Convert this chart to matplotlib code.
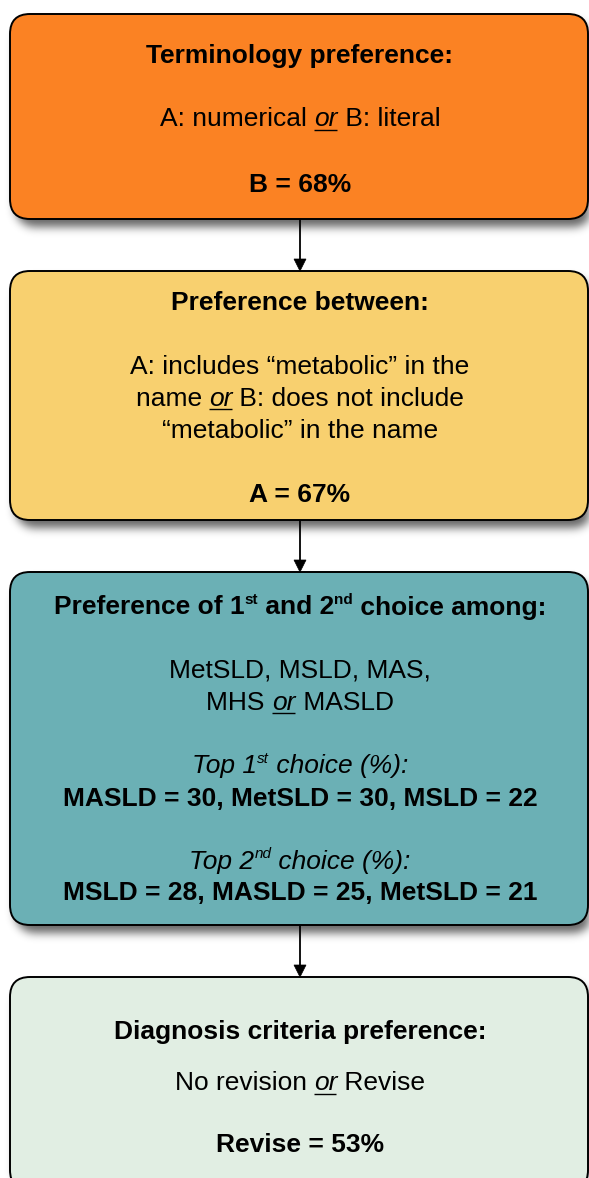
import numpy as np
import matplotlib
matplotlib.use('Agg')
import matplotlib.pyplot as plt
from matplotlib.patches import FancyBboxPatch, Polygon
from matplotlib.font_manager import FontProperties

# ---------------- data ----------------
terminology_options = ["numerical", "literal"]
terminology_winner = "B"
terminology_pct = 68

metabolic_winner = "A"
metabolic_pct = 67

candidate_names = ["MetSLD", "MSLD", "MAS", "MHS", "MASLD"]
top1_names = ["MASLD", "MetSLD", "MSLD"]
top1_values = [30, 30, 22]
top2_names = ["MSLD", "MASLD", "MetSLD"]
top2_values = [28, 25, 21]

diagnosis_options = ["No revision", "Revise"]
diagnosis_winner = "Revise"
diagnosis_pct = 53

box_colors = ["#FB8223", "#F8D06F", "#6BB0B5", "#E1EEE3"]

# ---------------- layout ----------------
W, H = 589, 1178
DPI = 100
FAMILY = "Liberation Sans"
FS = 19.0
PX = DPI / 72.0

BOX_X0, BOX_X1 = 10, 588
RADIUS = 20
boxes_y = [(14, 219), (271, 520), (572, 925), (977, 1190)]
CX = 300

fig = plt.figure(figsize=(W / DPI, H / DPI), dpi=DPI)
fig.patch.set_facecolor("white")
ax = fig.add_axes([0, 0, 1, 1])
ax.set_xlim(0, W)
ax.set_ylim(H, 0)
ax.axis("off")
renderer = fig.canvas.get_renderer()

# ---------------- shadows ----------------
yy, xx = np.mgrid[0:H, 0:W] + 0.5


def rrect_mask(x0, y0, x1, y1, r):
    dx = np.maximum(np.maximum(x0 + r - xx, 0), xx - (x1 - r))
    dy = np.maximum(np.maximum(y0 + r - yy, 0), yy - (y1 - r))
    dx = np.maximum(dx, 0)
    dy = np.maximum(dy, 0)
    return ((dx ** 2 + dy ** 2) <= r ** 2).astype(float)


def blur(img, sigma):
    rad = int(3 * sigma)
    t = np.arange(-rad, rad + 1)
    k = np.exp(-t ** 2 / (2 * sigma ** 2))
    k /= k.sum()
    out = np.apply_along_axis(lambda m: np.convolve(m, k, mode="same"), 1, img)
    out = np.apply_along_axis(lambda m: np.convolve(m, k, mode="same"), 0, out)
    return out


mask = np.zeros((H, W))
for (y0, y1) in boxes_y:
    mask = np.maximum(mask, rrect_mask(BOX_X0 + 5, y0 + 8, BOX_X1 + 5, y1 + 8, RADIUS))
shadow = blur(mask, 4.5)
rgba = np.zeros((H, W, 4))
rgba[..., 3] = shadow * 0.6
ax.imshow(rgba, extent=(0, W, H, 0), origin="upper", zorder=0.5,
          interpolation="bilinear", aspect="auto")
ax.set_xlim(0, W)
ax.set_ylim(H, 0)

# ---------------- boxes and arrows ----------------
for (y0, y1), col in zip(boxes_y, box_colors):
    ax.add_patch(FancyBboxPatch((BOX_X0, y0), BOX_X1 - BOX_X0, y1 - y0,
                                boxstyle=f"round,pad=0,rounding_size={RADIUS}",
                                facecolor=col, edgecolor="black", linewidth=1.4,
                                zorder=2))

for i in range(len(boxes_y) - 1):
    ya = boxes_y[i][1]
    yb = boxes_y[i + 1][0]
    ax.plot([CX, CX], [ya, yb - 11], color="black", lw=1.3, zorder=3,
            solid_capstyle="butt")
    ax.add_patch(Polygon([(CX - 6, yb - 12), (CX + 6, yb - 12), (CX, yb)],
                         closed=True, facecolor="black", edgecolor="black",
                         lw=0.5, zorder=3))

# ---------------- rich text ----------------
STYLES = {
    "n": dict(weight="normal", style="normal", scale=1.0, rise=0.0, ul=False),
    "b": dict(weight="bold", style="normal", scale=1.0, rise=0.0, ul=False),
    "i": dict(weight="normal", style="italic", scale=1.0, rise=0.0, ul=False),
    "u": dict(weight="normal", style="italic", scale=1.0, rise=0.0, ul=True),
    "bs": dict(weight="bold", style="normal", scale=0.58, rise=0.4, ul=False),
    "is": dict(weight="normal", style="italic", scale=0.58, rise=0.4, ul=False),
}


def fprop(code):
    st = STYLES[code]
    return FontProperties(family=FAMILY, weight=st["weight"], style=st["style"],
                          size=FS * st["scale"])


def text_width(s, code):
    fp = fprop(code)
    w_full, _, _ = renderer.get_text_width_height_descent("|" + s + "|", fp, ismath=False)
    w_bars, _, _ = renderer.get_text_width_height_descent("||", fp, ismath=False)
    return w_full - w_bars


def draw_line(cy, segments):
    widths = [text_width(s, c) for s, c in segments]
    total = sum(widths)
    x = CX - total / 2.0
    base = cy + 0.36 * FS * PX
    for (s, c), w in zip(segments, widths):
        st = STYLES[c]
        yb = base - st["rise"] * FS * PX
        ax.text(x, yb, s, fontproperties=fprop(c), ha="left", va="baseline",
                color="black", zorder=5)
        if st["ul"]:
            ax.plot([x, x + w - 1], [base + 3.0, base + 3.0], color="black",
                    lw=1.0, zorder=5, solid_capstyle="butt")
        x += w


def pairs(names, values):
    return ", ".join(f"{n} = {v}" for n, v in zip(names, values))


# Box 1
draw_line(53, [("Terminology preference:", "b")])
draw_line(117, [(f"A: {terminology_options[0]} ", "n"), ("or", "u"),
                (f" B: {terminology_options[1]}", "n")])
draw_line(182, [(f"{terminology_winner} = {terminology_pct}%", "b")])

# Box 2
draw_line(300, [("Preference between:", "b")])
draw_line(364, [("A: includes \u201cmetabolic\u201d in the", "n")])
draw_line(396, [("name ", "n"), ("or", "u"), (" B: does not include", "n")])
draw_line(428, [("\u201cmetabolic\u201d in the name", "n")])
draw_line(492, [(f"{metabolic_winner} = {metabolic_pct}%", "b")])

# Box 3
draw_line(605, [("Preference of 1", "b"), ("st", "bs"), (" and 2", "b"),
                ("nd", "bs"), (" choice among:", "b")])
draw_line(668, [(", ".join(candidate_names[:3]) + ",", "n")])
draw_line(700, [(candidate_names[3] + " ", "n"), ("or", "u"),
                (" " + candidate_names[4], "n")])
draw_line(764, [("Top 1", "i"), ("st", "is"), (" choice (%):", "i")])
draw_line(796, [(pairs(top1_names, top1_values), "b")])
draw_line(859, [("Top 2", "i"), ("nd", "is"), (" choice (%):", "i")])
draw_line(891, [(pairs(top2_names, top2_values), "b")])

# Box 4
draw_line(1030, [("Diagnosis criteria preference:", "b")])
draw_line(1081, [(diagnosis_options[0] + " ", "n"), ("or", "u"),
                 (" " + diagnosis_options[1], "n")])
draw_line(1143, [(f"{diagnosis_winner} = {diagnosis_pct}%", "b")])

fig.savefig("out.png", dpi=DPI, facecolor="white")
